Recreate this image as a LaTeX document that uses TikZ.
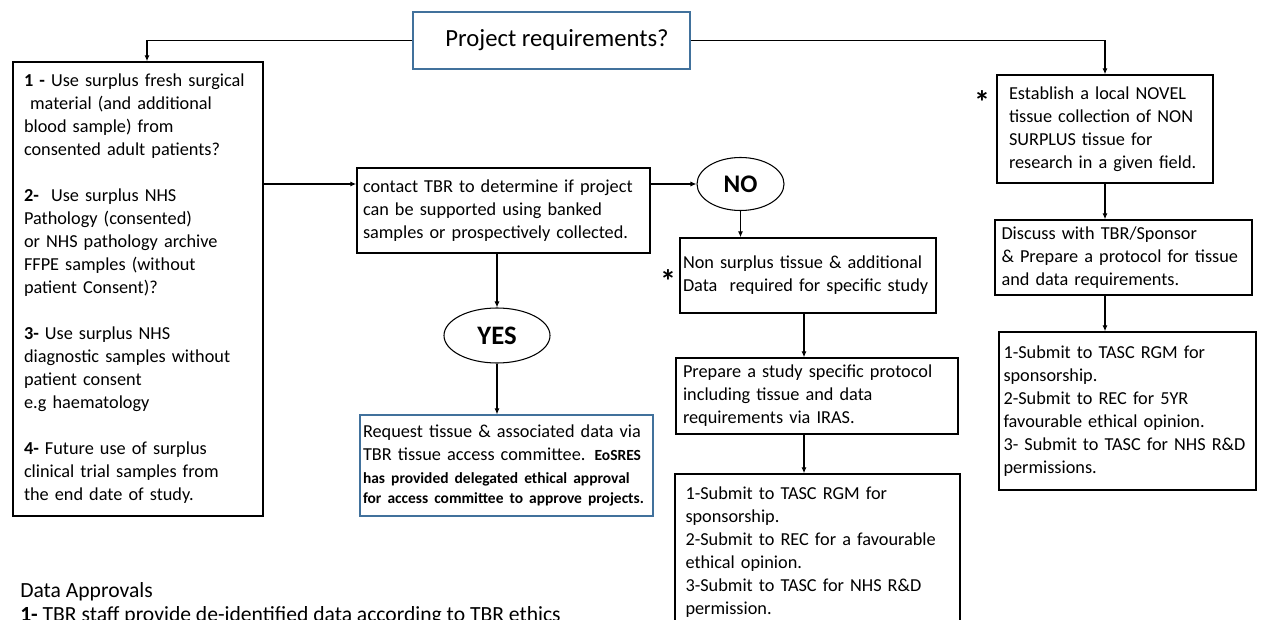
\documentclass[tikz,border=0pt]{standalone}
\usepackage{fontspec}
\setmainfont{Carlito}
\usetikzlibrary{arrows.meta,shapes.geometric}
\newdimen\px \px=0.75pt
\definecolor{boxblue}{RGB}{65,113,156}
\begin{document}
\begin{tikzpicture}[x=0.75pt,y=-0.75pt,
  bx/.style={draw=black,line width=1.1pt,inner sep=0pt,align=left,
    font=\fontsize{13.7pt}{17.25pt}\selectfont},
  bbx/.style={bx,draw=boxblue,line width=0.9pt},
  ell/.style={draw=black,ellipse,line width=0.8pt,inner sep=0pt},
  arr/.style={draw=black,line width=0.8pt,-{Latex[length=4.5pt,width=3.8pt]}},
  star/.style={font=\bfseries\fontsize{24pt}{24pt}\selectfont,inner sep=0pt}]
\useasboundingbox (0,0) rectangle (1264,620);
\clip (0,0) rectangle (1264,620);
\fill[white] (0,0) rectangle (1264,620);

\node[bbx,minimum width=277\px,minimum height=57\px,font=\fontsize{18.5pt}{21pt}\selectfont] (proj) at (551.5,40.5) {\hspace*{11\px}Project requirements?};

\node[bx,minimum width=250\px,minimum height=454\px,text width=228\px] (left) at (138,289) {%
\textbf{1 -} Use surplus fresh surgical\\
\ material (and additional\\
blood sample) from\\
consented adult patients?\\[17.25pt]
\textbf{2-}\ \ Use surplus NHS\\
Pathology (consented)\\
or NHS pathology archive\\
FFPE samples (without\\
patient Consent)?\\[17.25pt]
\textbf{3-} Use surplus NHS\\
diagnostic samples without\\
patient consent\\
e.g haematology\\[17.25pt]
\textbf{4-} Future use of surplus\\
clinical trial samples from\\
the end date of study.};

\node[bx,minimum width=293\px,minimum height=85\px,text width=281\px] (contact) at (503.5,210.5) {%
contact TBR to determine if project\\
can be supported using banked\\
samples or prospectively collected.};

\node[ell,minimum width=87\px,minimum height=53\px,font=\bfseries\fontsize{19pt}{19pt}\selectfont] (no) at (740.5,184) {NO};
\node[ell,minimum width=106\px,minimum height=55\px,font=\bfseries\fontsize{20pt}{20pt}\selectfont] (yes) at (497,335.5) {YES};

\node[bbx,minimum width=293\px,minimum height=101\px,text width=287\px] (req) at (506.5,465.5) {%
Request tissue \& associated data via\\
TBR tissue access committee. {\bfseries\fontsize{11.6pt}{14pt}\selectfont EoSRES}\\
{\bfseries\fontsize{11.6pt}{14pt}\selectfont has provided delegated ethical approval}\\[-2pt]
{\bfseries\fontsize{11.6pt}{14pt}\selectfont for access committee to approve projects.}};

\node[bx,minimum width=256\px,minimum height=75\px,text width=250\px] (ns) at (808,275.5) {%
Non surplus tissue \& additional\\
Data\ \ required for specific study};
\node[star] (s1) at (668,281) {*};

\node[bx,minimum width=282\px,minimum height=76\px,text width=268\px] (prep) at (817,396) {%
Prepare a study specific protocol\\
including tissue and data\\
requirements via IRAS.};

\node[bx,minimum width=285\px,minimum height=157\px,text width=264\px] (sub) at (817.5,552.5) {%
1-Submit to TASC RGM for\\
sponsorship.\\
2-Submit to REC for a favourable\\
ethical opinion.\\
3-Submit to TASC for NHS R\&D\\
permission.};

\node[bx,minimum width=216\px,minimum height=108\px,text width=192\px] (est) at (1105,129) {%
Establish a local NOVEL\\
tissue collection of NON\\
SURPLUS tissue for\\
research in a given field.};
\node[star] (s2) at (982,102) {*};

\node[bx,minimum width=257\px,minimum height=75\px,text width=244\px] (disc) at (1123.5,257.5) {%
Discuss with TBR/Sponsor\\
\& Prepare a protocol for tissue\\
and data requirements.};

\node[bx,minimum width=257\px,minimum height=158\px,text width=248\px] (sub2) at (1127.5,411) {%
1-Submit to TASC RGM for\\
sponsorship.\\
2-Submit to REC for 5YR\\
favourable ethical opinion.\\
\mbox{3- Submit to TASC for NHS R\&D}\\
permissions.};

\node[anchor=base west,inner sep=0pt,font=\fontsize{16.2pt}{19pt}\selectfont] (da) at (20,597) {Data Approvals};
\node[anchor=base west,inner sep=0pt,font=\fontsize{16.2pt}{19pt}\selectfont] (da1) at (20,621) {\textbf{1-} TBR staff provide de-identified data according to TBR ethics};

% connectors
\coordinate (c0) at ([xshift=6.75pt]left.north);
\draw[arr] (proj.west) -| (c0);
\draw[arr] (proj.east) -| (est.north);
\draw[arr] (left.east |- no.west) -- (contact.west |- no.west);
\draw[arr] (contact.east |- no.west) -- (no.west);
\draw[arr] (yes.north |- contact.south) -- (yes.north);
\draw[arr] (yes.south) -- (yes.south |- req.north);
\draw[arr] (no.south) -- (no.south |- ns.north);
\coordinate (c1) at ([xshift=-3pt]ns.south);
\draw[arr] (c1) -- (c1 |- prep.north);
\draw[arr] (c1 |- prep.south) -- (c1 |- sub.north);
\draw[arr] (est.south) -- (est.south |- disc.north);
\draw[arr] (est.south |- disc.south) -- (est.south |- sub2.north);
\end{tikzpicture}
\end{document}
